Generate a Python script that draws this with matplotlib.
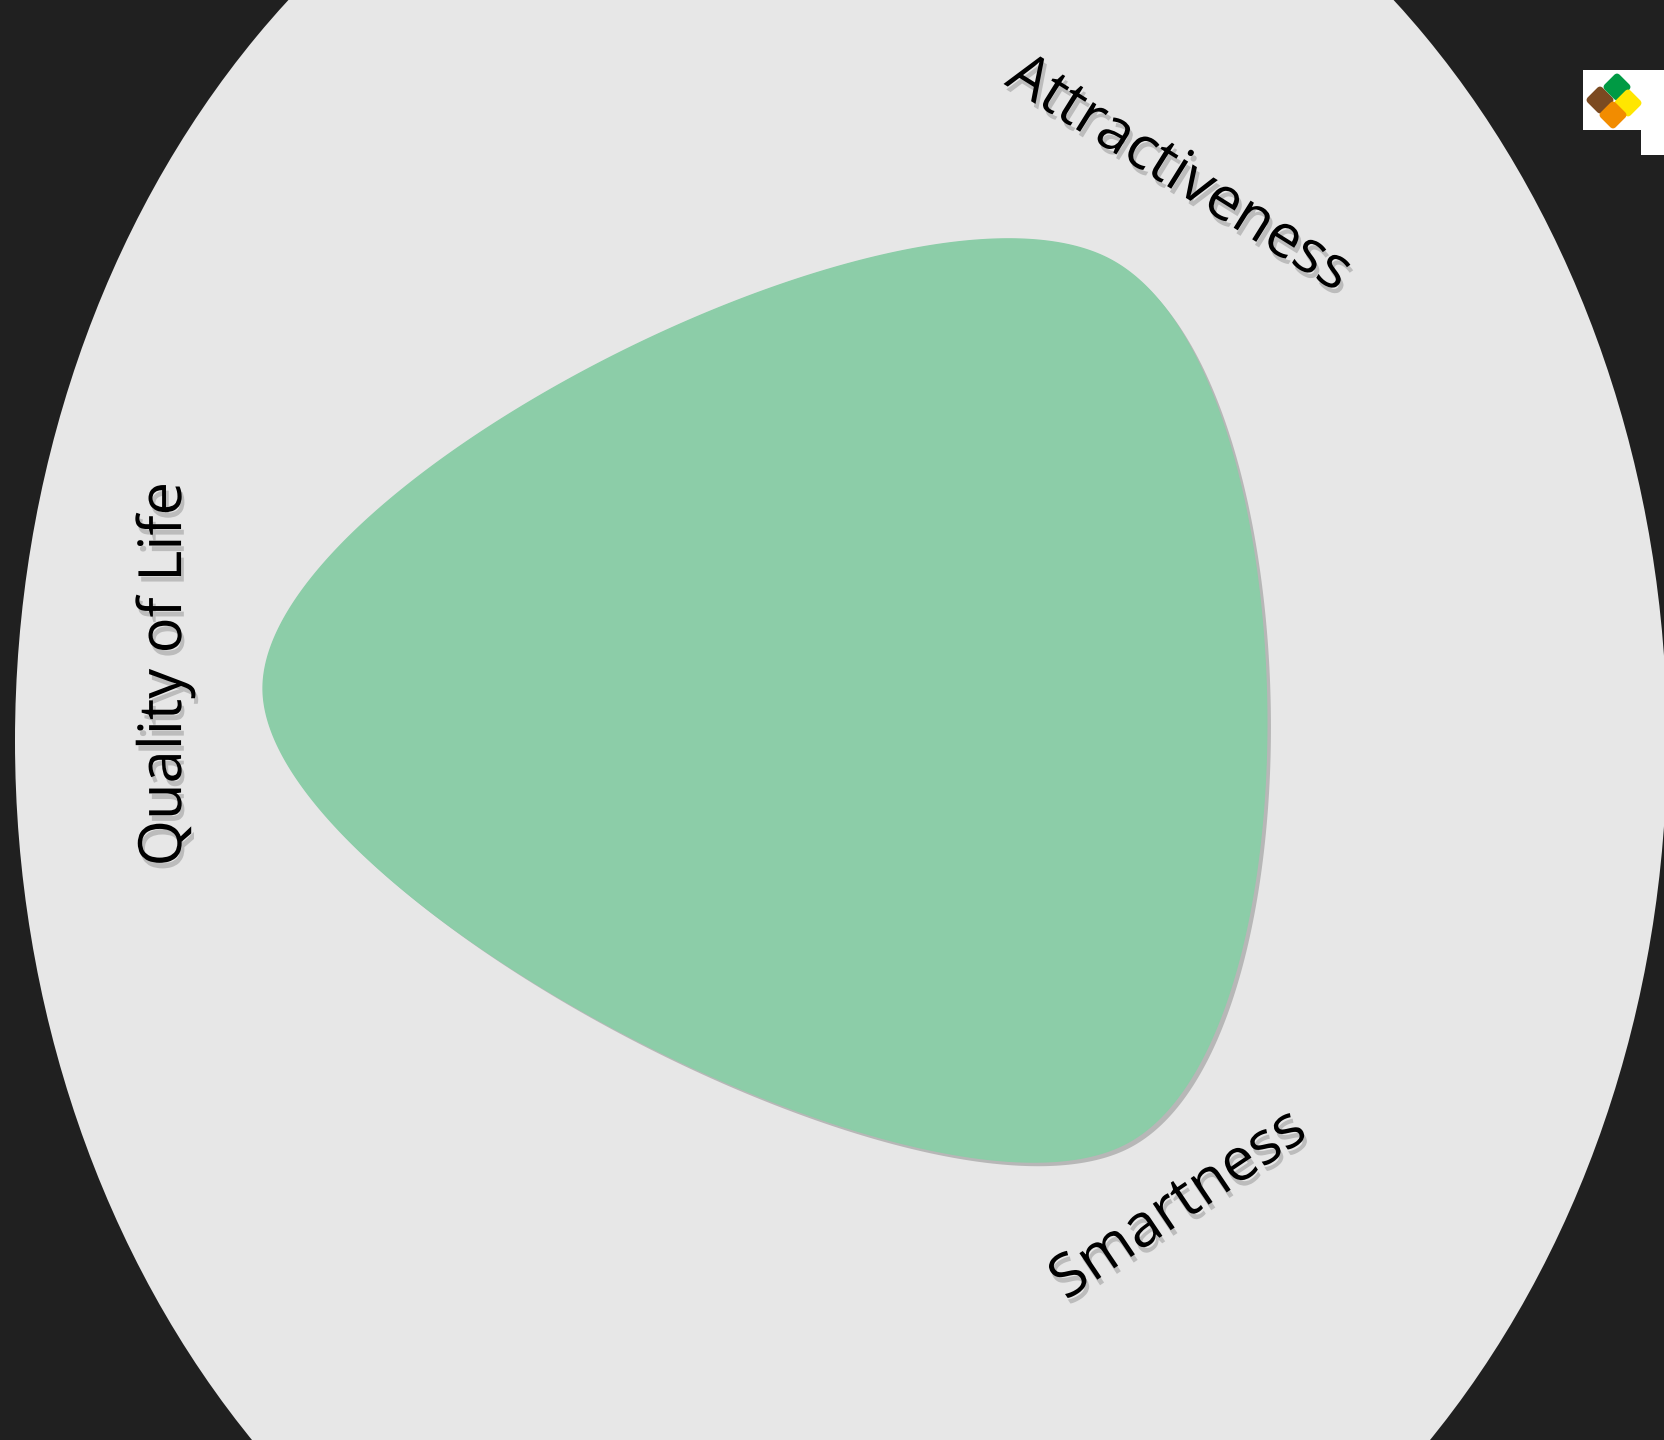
import numpy as np
import matplotlib
matplotlib.use("Agg")
import matplotlib.pyplot as plt
from matplotlib.patches import Ellipse, Rectangle, Polygon
import matplotlib.patheffects as pe

# radar data
categories = ["Attractiveness", "Smartness", "Quality of Life"]
angles_deg = [60, -60, 180]
values = [0.84, 0.886, 0.903]

# layout (pixels)
W, H = 1665, 1440
cx, cy = 841, 690          # radar centre
Rx, Ry = 640, 592          # radius for value 1.0
lab_rx, lab_ry = 676, 595  # label ring
label_rot = [-32, 34, 90]
label_dy = [0, 0, -16]
tension = 0.7


def closed_spline(px, py, k=0.5, n=200):
    # cardinal spline through the points, closed
    m = len(px)
    xs, ys = [], []
    t = np.linspace(0, 1, n, endpoint=False)
    h00 = 2 * t**3 - 3 * t**2 + 1
    h10 = t**3 - 2 * t**2 + t
    h01 = -2 * t**3 + 3 * t**2
    h11 = t**3 - t**2
    for i in range(m):
        p0, p1, p2, p3 = (i - 1) % m, i, (i + 1) % m, (i + 2) % m
        m1x, m1y = k * (px[p2] - px[p0]), k * (py[p2] - py[p0])
        m2x, m2y = k * (px[p3] - px[p1]), k * (py[p3] - py[p1])
        xs.append(h00 * px[p1] + h10 * m1x + h01 * px[p2] + h11 * m2x)
        ys.append(h00 * py[p1] + h10 * m1y + h01 * py[p2] + h11 * m2y)
    return np.concatenate(xs), np.concatenate(ys)


fig = plt.figure(figsize=(W / 100, H / 100), dpi=100)
fig.patch.set_facecolor("#202020")
ax = fig.add_axes([0, 0, 1, 1])
ax.set_xlim(0, W)
ax.set_ylim(H, 0)
ax.axis("off")

# background ring
ax.add_patch(Ellipse((841, 741), 2 * 826, 2 * 997, facecolor="#e7e7e7", edgecolor="none", zorder=1))

# radar shape
ang = np.radians(angles_deg)
vx = cx + np.array(values) * Rx * np.cos(ang)
vy = cy - np.array(values) * Ry * np.sin(ang)
sx, sy = closed_spline(vx, vy, k=tension)
ax.fill(sx, sy, color="#8ccda8", zorder=3,
        path_effects=[pe.SimplePatchShadow(offset=(3, -3), shadow_rgbFace="#707070", alpha=0.4), pe.Normal()])

# axis labels
for name, a, rot, dy in zip(categories, angles_deg, label_rot, label_dy):
    lx = cx + lab_rx * np.cos(np.radians(a))
    ly = cy - lab_ry * np.sin(np.radians(a)) + dy
    ax.text(lx, ly, name, fontsize=43, family=["Open Sans", "DejaVu Sans"],
            color="black", rotation=rot, ha="center", va="center", rotation_mode="anchor", zorder=5,
            path_effects=[pe.withSimplePatchShadow(offset=(2, -4), shadow_rgbFace="#888888", alpha=0.45)])

# logo corner
ax.add_patch(Rectangle((1583, 70), 82, 60, facecolor="white", edgecolor="none", zorder=6))
ax.add_patch(Rectangle((1641, 130), 24, 25, facecolor="white", edgecolor="none", zorder=6))
logo = [((1600, 100), "#7b4a21"), ((1617, 87), "#009a44"), ((1628, 103), "#ffe600"), ((1613, 115), "#f28c00")]
for (lx, ly), c in logo:
    d = 10
    ax.add_patch(Polygon([(lx, ly - d), (lx + d, ly), (lx, ly + d), (lx - d, ly)], closed=True,
                         facecolor=c, edgecolor=c, linewidth=5, joinstyle="round", zorder=7))

fig.savefig("out.png", dpi=100, facecolor=fig.get_facecolor())
